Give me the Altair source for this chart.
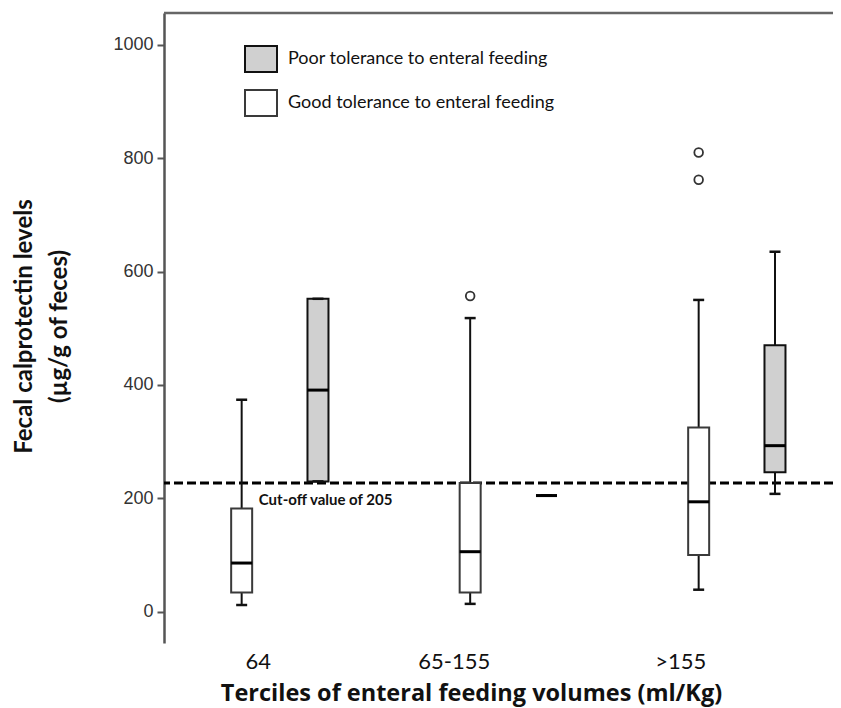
import altair as alt
import pandas as pd

# ---------------- data ----------------
terciles = ["64", "65-155", ">155"]
tercile_label_pos = [0.07, 0.928, 1.919]          # where the tercile labels sit on the x scale
tolerance_names = ["Poor tolerance to enteral feeding", "Good tolerance to enteral feeding"]

box_tercile = ["64", "64", "65-155", "65-155", ">155", ">155"]
box_tolerance = ["Good", "Poor", "Good", "Poor", "Good", "Poor"]
lower_whisker = [12, 230, 14, 205, 39, 208]
q1 = [34, 230, 34, 205, 100, 246]
median = [86, 391, 106, 205, 194, 293]
q3 = [182, 552, 227, 205, 325, 470]
upper_whisker = [374, 552, 518, 205, 550, 635]

outlier_tercile = ["65-155", ">155", ">155"]
outlier_value = [557, 762, 810]

cutoff_drawn = 227
cutoff_text = "Cut-off value of 205"

x_title = "Terciles of  enteral feeding volumes (ml/Kg)"
y_title = ["Fecal calprotectin levels", "(µg/g of feces)"]
y_ticks = [0, 200, 400, 600, 800, 1000]

# ---------------- layout helpers ----------------
Y_MIN, Y_MAX = -55, 1056
X_MIN, X_MAX = -0.318, 2.566
W, H = 669, 630
tol_offset = {"Good": 0.0, "Poor": 0.334}
tol_full = {"Good": tolerance_names[1], "Poor": tolerance_names[0]}

boxes = pd.DataFrame({
    "tercile": box_tercile,
    "tol": [tol_full[t] for t in box_tolerance],
    "pos": [terciles.index(t) + tol_offset[s] for t, s in zip(box_tercile, box_tolerance)],
    "lw": lower_whisker, "q1": q1, "med": median, "q3": q3, "uw": upper_whisker,
})
outliers = pd.DataFrame({
    "pos": [terciles.index(t) + tol_offset["Good"] for t in outlier_tercile],
    "value": outlier_value,
})
cutoff = pd.DataFrame({"value": [cutoff_drawn], "label": [cutoff_text], "pos": [0.075]})
frame = pd.DataFrame({"value": [Y_MAX]})

label_expr = " : ".join(
    [f"abs(datum.value - {p}) < 0.01 ? '{t}'" for p, t in zip(tercile_label_pos, terciles)] + ["''"]
)

xscale = alt.Scale(domain=[X_MIN, X_MAX], nice=False, zero=False)
yscale = alt.Scale(domain=[Y_MIN, Y_MAX], nice=False, zero=False)

x_axis = alt.Axis(
    values=tercile_label_pos, labelExpr=label_expr, domain=False, ticks=False, tickSize=0,
    grid=False, labelFontSize=22, labelFont="Lato", labelColor="#111", labelPadding=8,
    labelFlush=False, labelOverlap=False,
    title=x_title, titleFont="Open Sans", titleFontSize=23.5, titleFontWeight="bold", titleColor="#111",
    titleX=307, titleY=50, titleAlign="center", titleBaseline="middle", titleAnchor="start",
)
y_axis = alt.Axis(
    values=y_ticks, format="d", grid=False, domainColor="#555", domainWidth=2.5, tickColor="#555",
    tickWidth=2, tickSize=7, labelFontSize=18, labelFont="Liberation Sans", labelColor="#333",
    labelPadding=4,
    title=y_title, titleFont="Lato", titleFontSize=24, titleFontWeight="bold", titleColor="#111",
    titleAngle=270, titleX=-152, titleY=313, titleAlign="center", titleBaseline="top",
    titleLineHeight=35,
)

base = alt.Chart(boxes)

box = base.mark_bar(width=21, strokeWidth=2, opacity=1).encode(
    x=alt.X("pos:Q", scale=xscale, axis=x_axis),
    y=alt.Y("q1:Q", scale=yscale, axis=y_axis),
    y2="q3:Q",
    fill=alt.Fill("tol:N", scale=alt.Scale(domain=tolerance_names, range=["#d0d0d0", "#ffffff"]),
                  legend=alt.Legend(
                      title=None, orient="none", legendX=80, legendY=29, padding=0,
                      symbolType="M-1,-0.8125H1V0.8125H-1Z", symbolSize=1024, symbolStrokeWidth=2,
                      labelFontSize=18, labelFont="Lato", labelColor="#111", labelOffset=10,
                      rowPadding=10, labelLimit=400)),
    stroke=alt.Stroke("tol:N", scale=alt.Scale(domain=tolerance_names, range=["#111111", "#3a3a3a"]),
                      legend=None),
)

whisk_low = base.mark_rule(color="#111", strokeWidth=2).encode(
    x="pos:Q", y="lw:Q", y2="q1:Q")
whisk_high = base.mark_rule(color="#111", strokeWidth=2).encode(
    x="pos:Q", y="q3:Q", y2="uw:Q")
cap_low = base.mark_tick(orient="horizontal", size=11, thickness=2.5, color="#111", opacity=1).encode(
    x="pos:Q", y="lw:Q")
cap_high = base.mark_tick(orient="horizontal", size=11, thickness=2.5, color="#111", opacity=1).encode(
    x="pos:Q", y="uw:Q")
med = base.mark_tick(orient="horizontal", size=21, thickness=3, color="#000", opacity=1).encode(
    x="pos:Q", y="med:Q")

outl = alt.Chart(outliers).mark_point(shape="circle", size=75, filled=False, color="#333",
                                      strokeWidth=1.8, opacity=1).encode(x="pos:Q", y="value:Q")

cut = alt.Chart(cutoff).mark_rule(color="#000", strokeWidth=3, strokeDash=[9, 4]).encode(
    y="value:Q")
cut_text = alt.Chart(cutoff).mark_text(align="left", baseline="middle", dy=17, font="Lato",
                                       fontSize=15, fontWeight="bold", color="#111").encode(
    x="pos:Q", y="value:Q", text="label:N")

top = alt.Chart(frame).mark_rule(color="#666", strokeWidth=2.5).encode(y="value:Q")

chart = alt.layer(top, cut, whisk_low, whisk_high, box, cap_low, cap_high, med, outl, cut_text).properties(
    width=W, height=H,
    autosize=alt.AutoSizeParams(type="none"),
    padding={"left": 156, "top": 5, "right": 0, "bottom": 65},
).configure_view(stroke=None)

chart.save("out.html", embed_options={"renderer": "svg", "actions": False})
